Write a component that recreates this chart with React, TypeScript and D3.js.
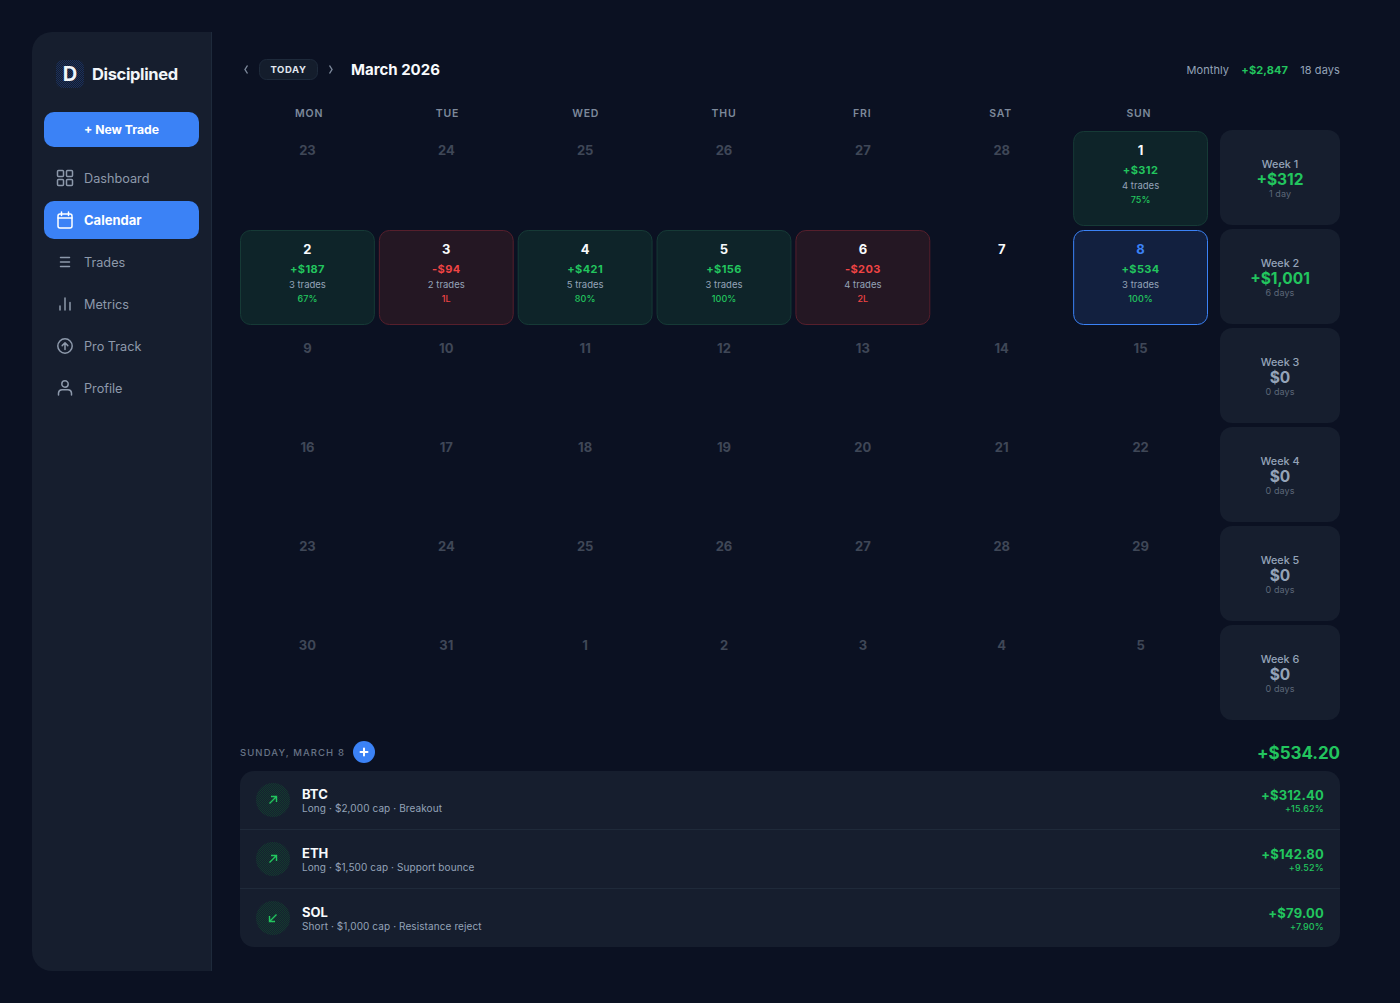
import React from "react";
import * as d3 from "d3";

// calendar values
const weekdays = ["MON", "TUE", "WED", "THU", "FRI", "SAT", "SUN"];
const dayGrid = [
  ["23", "24", "25", "26", "27", "28", "1"],
  ["2", "3", "4", "5", "6", "7", "8"],
  ["9", "10", "11", "12", "13", "14", "15"],
  ["16", "17", "18", "19", "20", "21", "22"],
  ["23", "24", "25", "26", "27", "28", "29"],
  ["30", "31", "1", "2", "3", "4", "5"],
];
const tradedDays = ["1", "2", "3", "4", "5", "6", "8"];
const tradedPnl = [312, 187, -94, 421, 156, -203, 534];
const tradedCounts = [4, 3, 2, 5, 3, 4, 3];
const tradedNotes = ["75%", "67%", "1L", "80%", "100%", "2L", "100%"];
const blankDays = ["7"]; // in the month, no trades

const weekPnl = [312, 1001, 0, 0, 0, 0];
const weekDays = [1, 6, 0, 0, 0, 0];

const navItems = ["Dashboard", "Calendar", "Trades", "Metrics", "Pro Track", "Profile"];

const tradeSymbols = ["BTC", "ETH", "SOL"];
const tradeDetails = [
  "Long · $2,000 cap · Breakout",
  "Long · $1,500 cap · Support bounce",
  "Short · $1,000 cap · Resistance reject",
];
const tradePnl = ["+$312.40", "+$142.80", "+$79.00"];
const tradePct = ["+15.62%", "+9.52%", "+7.90%"];
const tradeLong = [true, true, false];

const FONT = "Inter, 'Noto Sans', sans-serif";
const BG = "#0b1122";
const GREEN = "#22c55e";
const RED = "#ef4444";
const BLUE = "#3b82f6";
const PANEL = "#161e2e";
const MUTED = "#94a3b8";
const NAV = "#8d99ab";

const money = (v: number) => (v < 0 ? "-$" : "+$") + d3.format(",")(Math.abs(v));

const NavIcon = ({ name, cx, cy, color }: { name: string; cx: number; cy: number; color: string }) => {
  const common = { fill: "none", stroke: color, strokeWidth: 1.5, strokeLinecap: "round" as const, strokeLinejoin: "round" as const };
  const t = `translate(${cx},${cy})`;
  if (name === "Dashboard")
    return (
      <g transform={t} {...common}>
        {[[-7.5, -7.5], [1.5, -7.5], [-7.5, 1.5], [1.5, 1.5]].map(([x, y], i) => (
          <rect key={i} x={x} y={y} width={6} height={6} rx={1} />
        ))}
      </g>
    );
  if (name === "Calendar")
    return (
      <g transform={t} {...common}>
        <rect x={-7} y={-6} width={14} height={14} rx={2} />
        <path d="M-7,-2H7M-3.5,-8V-4.5M3.5,-8V-4.5" />
      </g>
    );
  if (name === "Trades")
    return (
      <g transform={t} {...common}>
        <path d="M-4.5,-4.5H4.5M-4.5,0H4.5M-4.5,4.5H4.5" />
      </g>
    );
  if (name === "Metrics")
    return (
      <g transform={t} {...common}>
        <path d="M-5,6V2M0,6V-6M5,6V-1.5" />
      </g>
    );
  if (name === "Pro Track")
    return (
      <g transform={t} {...common}>
        <circle r={7.2} />
        <path d="M0,3.5V-3.2M-2.8,-0.4L0,-3.2L2.8,-0.4" />
      </g>
    );
  return (
    <g transform={t} {...common}>
      <circle cy={-4} r={3.2} />
      <path d="M-6.5,7V5A3.5,3.5 0 0 1 -3,1.8H3A3.5,3.5 0 0 1 6.5,5V7" />
    </g>
  );
};

export default function App() {
  const colX = d3.scaleBand<number>().domain(d3.range(7)).range([238, 1210]);
  const headX = d3.scaleBand<string>().domain(weekdays).range([240, 1208]);
  const rowY = d3.scaleBand<number>().domain(d3.range(6)).range([129, 723]);
  const navY = d3.scalePoint<string>().domain(navItems).range([178, 388]);
  const tradeY = d3.scaleBand<number>().domain(d3.range(3)).range([771, 947]);

  const cw = colX.bandwidth() - 4;
  const ch = rowY.bandwidth() - 4;

  return (
    <div style={{ position: "absolute", inset: 0, background: BG, overflow: "hidden" }}>
      <svg width={1400} height={1003} style={{ display: "block", fontFamily: FONT }}>
        <defs>
          <pattern id="dotsBlue" width={2} height={2} patternUnits="userSpaceOnUse">
            <rect width={2} height={2} fill="#141d2e" />
            <rect width={1} height={1} fill="#1b305c" />
            <rect x={1} y={1} width={1} height={1} fill="#1b305c" />
          </pattern>
          <pattern id="dotsGreen" width={2} height={2} patternUnits="userSpaceOnUse">
            <rect width={2} height={2} fill="#152030" />
            <rect width={1} height={1} fill="#143a2e" />
            <rect x={1} y={1} width={1} height={1} fill="#143a2e" />
          </pattern>
        </defs>
        <rect width={1400} height={1003} fill={BG} />

        {/* sidebar */}
        <path d="M52,32H212V971H52A20,20 0 0 1 32,951V52A20,20 0 0 1 52,32Z" fill={PANEL} />
        <line x1={211.5} x2={211.5} y1={32} y2={971} stroke="#1e2a3b" />
        <rect x={56} y={60} width={28} height={28} rx={7} fill="url(#dotsBlue)" />
        <text x={70} y={81} textAnchor="middle" fontSize={20} fontWeight={700} fill="#f1f5f9">D</text>
        <text x={92} y={80} fontSize={16.5} fontWeight={700} fill="#f1f5f9" letterSpacing={-0.35}>Disciplined</text>
        <rect x={44} y={112} width={155} height={35} rx={10} fill={BLUE} />
        <text x={121.5} y={134} textAnchor="middle" fontSize={12.2} fontWeight={700} fill="#fff">+ New Trade</text>

        {navItems.map((n) => {
          const y = navY(n)!;
          const active = n === "Calendar";
          return (
            <g key={n}>
              {active && <rect x={44} y={y - 19} width={155} height={38} rx={10} fill={BLUE} />}
              <NavIcon name={n} cx={65} cy={y} color={active ? "#fff" : NAV} />
              <text x={84} y={y + 4.5} fontSize={active ? 13 : 12.7} fontWeight={active ? 700 : 400} fill={active ? "#fff" : NAV}>{n}</text>
            </g>
          );
        })}

        {/* top bar */}
        <path d="M247.5,65.5L245,69.5L247.5,73.5" fill="none" stroke="#7d899b" strokeWidth={1.4} />
        <rect x={259.5} y={59.5} width={58} height={20} rx={7} fill="#141d2c" stroke="#1e2a3b" />
        <text x={288.5} y={73} textAnchor="middle" fontSize={9.5} fontWeight={700} letterSpacing={0.6} fill="#e2e8f0">TODAY</text>
        <path d="M329.5,65.5L332,69.5L329.5,73.5" fill="none" stroke="#7d899b" strokeWidth={1.4} />
        <text x={351} y={75} fontSize={15} fontWeight={700} fill="#f8fafc">March 2026</text>
        <text x={1229} y={74} textAnchor="end" fontSize={11} letterSpacing={0.05} fill={MUTED}>Monthly</text>
        <text x={1288} y={74} textAnchor="end" fontSize={11} fontWeight={700} letterSpacing={0.1} fill={GREEN}>+$2,847</text>
        <text x={1340} y={74} textAnchor="end" fontSize={11} letterSpacing={0.1} fill={MUTED}>18 days</text>

        {/* weekday header */}
        {weekdays.map((w) => (
          <text key={w} x={headX(w)! + headX.bandwidth() / 2} y={117} textAnchor="middle" fontSize={10.5} fontWeight={600} letterSpacing={0.8} fill="#7d899b">{w}</text>
        ))}

        {/* day cells */}
        {dayGrid.map((row, r) =>
          row.map((day, c) => {
            const x = colX(c)! + 2;
            const y = rowY(r)! + 2;
            const cx = x + cw / 2;
            const inTradeRows = r < 2;
            const idx = inTradeRows ? tradedDays.indexOf(day) : -1;
            const traded = idx >= 0 && !(r === 0 && c < 6);
            if (!traded) {
              const lit = r === 1 && blankDays.includes(day);
              return (
                <text key={`${r}-${c}`} x={cx} y={y + 24} textAnchor="middle" fontSize={13} fontWeight={700} fill={lit ? "#f8fafc" : "#3f4757"}>{day}</text>
              );
            }
            const pnl = tradedPnl[idx];
            const today = day === "8";
            const fill = today ? "#12203f" : pnl < 0 ? "#241723" : "#0e2429";
            const stroke = today ? BLUE : pnl < 0 ? "#561f2c" : "#163a36";
            const color = pnl < 0 ? RED : GREEN;
            return (
              <g key={`${r}-${c}`}>
                <rect x={x + 0.5} y={y + 0.5} width={cw - 1} height={ch - 1} rx={10} fill={fill} stroke={stroke} />
                <text x={cx} y={y + 24} textAnchor="middle" fontSize={13} fontWeight={700} fill={today ? BLUE : "#f8fafc"}>{day}</text>
                <text x={cx} y={y + 43} textAnchor="middle" fontSize={11} fontWeight={700} letterSpacing={0.4} fill={color}>{money(pnl)}</text>
                <text x={cx} y={y + 58} textAnchor="middle" fontSize={9.5} fill={MUTED}>{tradedCounts[idx]} trades</text>
                <text x={cx} y={y + 72} textAnchor="middle" fontSize={9} fontWeight={500} letterSpacing={0.1} fill={color}>{tradedNotes[idx]}</text>
              </g>
            );
          })
        )}

        {/* week summaries */}
        {weekPnl.map((v, i) => {
          const y = rowY(i)! + 1;
          const cx = 1280;
          return (
            <g key={i}>
              <rect x={1220} y={y} width={120} height={95} rx={12} fill={PANEL} />
              <text x={cx} y={y + 38} textAnchor="middle" fontSize={10.8} fontWeight={500} fill={MUTED}>Week {i + 1}</text>
              <text x={cx} y={y + 55} textAnchor="middle" fontSize={15.5} fontWeight={700} fill={v > 0 ? GREEN : MUTED}>{v > 0 ? money(v) : "$0"}</text>
              <text x={cx} y={y + 67} textAnchor="middle" fontSize={9} letterSpacing={0.1} fill="#5c6778">{weekDays[i]} {weekDays[i] === 1 ? "day" : "days"}</text>
            </g>
          );
        })}

        {/* selected day */}
        <text x={240} y={756} fontSize={9.5} fontWeight={500} letterSpacing={1.1} fill="#687486">SUNDAY, MARCH 8</text>
        <circle cx={364} cy={752} r={11} fill={BLUE} />
        <path d="M360.5,752H367.5M364,748.5V755.5" stroke="#fff" strokeWidth={2} strokeLinecap="round" />
        <text x={1340} y={758.5} textAnchor="end" fontSize={17} fontWeight={700} letterSpacing={-0.05} fill={GREEN}>+$534.20</text>

        <rect x={240} y={771} width={1100} height={176} rx={14} fill={PANEL} />
        {tradeSymbols.map((s, i) => {
          const y0 = tradeY(i)!;
          const cy = Math.round(y0 + tradeY.bandwidth() / 2);
          return (
            <g key={s}>
              {i > 0 && <line x1={240} x2={1340} y1={Math.floor(y0) + 0.5} y2={Math.floor(y0) + 0.5} stroke="#1f2a3a" />}
              <circle cx={273} cy={cy} r={17} fill="url(#dotsGreen)" />
              <path
                d={tradeLong[i] ? "M-3.5,3.5L3.5,-3.5M-2,-3.5H3.5V2" : "M3.5,-3.5L-3.5,3.5M2,3.5H-3.5V-2"}
                transform={`translate(273,${cy})`}
                fill="none"
                stroke={GREEN}
                strokeWidth={1.4}
              />
              <text x={302} y={cy - 1} fontSize={13} fontWeight={700} fill="#f8fafc">{s}</text>
              <text x={302} y={cy + 12} fontSize={10} letterSpacing={0.1} fill={MUTED}>{tradeDetails[i]}</text>
              <text x={1324} y={cy} textAnchor="end" fontSize={13} fontWeight={700} letterSpacing={0.2} fill={GREEN}>{tradePnl[i]}</text>
              <text x={1324} y={cy + 12} textAnchor="end" fontSize={9} fontWeight={500} letterSpacing={0.2} fill={GREEN}>{tradePct[i]}</text>
            </g>
          );
        })}
      </svg>
    </div>
  );
}
